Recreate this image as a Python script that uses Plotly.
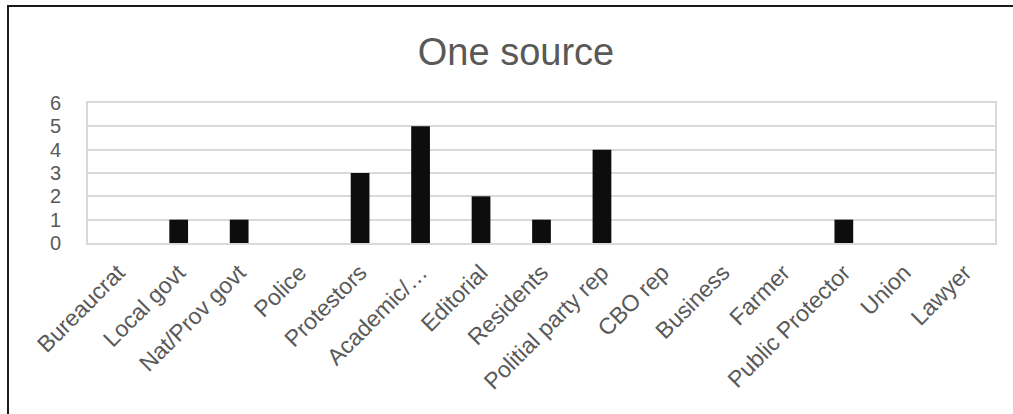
import plotly.graph_objects as go

# Source categories and counts
categories = ["Bureaucrat", "Local govt", "Nat/Prov govt", "Police", "Protestors",
              "Academic/…", "Editorial", "Residents", "Politial party rep", "CBO rep",
              "Business", "Farmer", "Public Protector", "Union", "Lawyer"]
counts = [0, 1, 1, 0, 3, 5, 2, 1, 4, 0, 0, 0, 1, 0, 0]
y_ticks = [0, 1, 2, 3, 4, 5, 6]

W, H = 1013, 414
L, R, T, B = 88, 995, 103, 243  # plot area in pixels


def px_x(p):
    return (p - L) / (R - L)


def px_y(p):
    return (B - p) / (B - T)


FONT = "Liberation Sans, Arial, sans-serif"
TXT = "#595959"
GRID = "#d9d9d9"

fig = go.Figure(go.Bar(
    x=categories, y=counts,
    marker=dict(color="#0d0d0d", line=dict(width=0)),
    width=0.31,
))

fig.update_layout(
    width=W, height=H,
    margin=dict(l=L, r=W - R, t=T, b=H - B, pad=0),
    paper_bgcolor="white", plot_bgcolor="white",
    showlegend=False,
    font=dict(family=FONT, color=TXT, size=23),
    title=dict(text="One source", x=516 / W, xanchor="center", xref="container",
               y=1 - 52 / H, yanchor="middle", yref="container",
               font=dict(size=38, color=TXT, family=FONT)),
    xaxis=dict(type="category", tickangle=-45, showgrid=False, ticks="",
               showline=True, linecolor=GRID, linewidth=2, mirror=True,
               tickfont=dict(size=23, color=TXT), ticklabelstandoff=5,
               range=[-0.5, len(categories) - 0.5]),
    yaxis=dict(range=[0, 6], tickvals=y_ticks, showgrid=True, gridcolor=GRID,
               gridwidth=2, zeroline=False, ticks="",
               showline=True, linecolor=GRID, linewidth=2, mirror=True,
               tickfont=dict(size=20, color=TXT), ticklabelstandoff=21),
    shapes=[dict(type="rect", xref="paper", yref="paper",
                 x0=px_x(8), x1=px_x(W + 10), y0=px_y(6), y1=px_y(H + 10),
                 line=dict(color="#1a1a1a", width=2), layer="below")],
)

fig.write_html("out.html")
